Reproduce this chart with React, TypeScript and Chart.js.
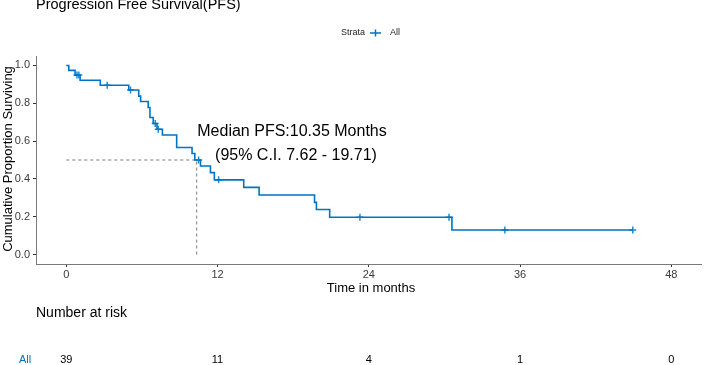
import React, { useEffect, useRef } from "react";
import { Chart, registerables } from "chart.js";

Chart.register(...registerables);

// Kaplan-Meier step points (time in months, survival proportion)
const eventTimes = [0, 0.2, 0.7, 1.1, 2.7, 4.96, 5.75, 5.9, 6.5, 6.64, 6.9, 7.2, 7.63, 8.76, 9.98, 10.2, 10.65, 11.44, 11.75, 14.08, 15.3, 19.7, 19.85, 20.9, 30.6, 44.95];
const survival = [1.0, 0.974, 0.949, 0.922, 0.895, 0.87, 0.838, 0.809, 0.778, 0.725, 0.693, 0.663, 0.632, 0.566, 0.534, 0.5, 0.468, 0.433, 0.395, 0.355, 0.315, 0.276, 0.238, 0.197, 0.13, 0.13];

// censored observations
const censorTimes = [0.85, 1.0, 3.25, 5.1, 7.06, 7.3, 10.5, 12.09, 23.3, 30.37, 34.8, 44.95];
const censorSurv = [0.949, 0.949, 0.895, 0.87, 0.693, 0.663, 0.5, 0.395, 0.197, 0.197, 0.13, 0.13];

const medianTime = 10.35;
const medianSurv = 0.5;

const xTicks = [0, 12, 24, 36, 48];
const yTicks = [0, 0.2, 0.4, 0.6, 0.8, 1.0];
const riskTimes = [0, 12, 24, 36, 48];
const riskCounts = [39, 11, 4, 1, 0];

const titleText = "Progression Free Survival(PFS)";
const annotLine1 = "Median PFS:10.35 Months";
const annotLine2 = "(95% C.I. 7.62 - 19.71)";

const BLUE = "#0073C2";
const FONT = '"Liberation Sans", Arial, sans-serif';

export default function App() {
  const ref = useRef<HTMLCanvasElement>(null);

  useEffect(() => {
    const canvas = ref.current!;
    const overlay = {
      id: "overlay",
      afterDraw(chart: any) {
        const ctx = chart.ctx as CanvasRenderingContext2D;
        const xs = chart.scales.x;
        ctx.save();
        // title
        ctx.fillStyle = "#000";
        ctx.textAlign = "left";
        ctx.textBaseline = "alphabetic";
        ctx.font = `14.5px ${FONT}`;
        ctx.fillText(titleText, 36, 9);
        // legend
        ctx.font = `9px ${FONT}`;
        ctx.fillStyle = "#222";
        ctx.textBaseline = "middle";
        ctx.fillText("Strata", 341, 33);
        ctx.fillText("All", 390, 33);
        ctx.strokeStyle = BLUE;
        ctx.lineWidth = 1.5;
        ctx.beginPath();
        ctx.moveTo(370, 33);
        ctx.lineTo(381, 33);
        ctx.moveTo(375.5, 29.5);
        ctx.lineTo(375.5, 36.5);
        ctx.stroke();
        // annotation
        ctx.fillStyle = "#000";
        ctx.font = `16px ${FONT}`;
        ctx.textAlign = "center";
        ctx.textBaseline = "alphabetic";
        ctx.fillText(annotLine1, 292, 136);
        ctx.fillText(annotLine2, 296, 160);
        // x title
        ctx.font = `13px ${FONT}`;
        ctx.textBaseline = "middle";
        ctx.fillText("Time in months", 371, 288);
        // y title
        ctx.save();
        ctx.translate(8, 159);
        ctx.rotate(-Math.PI / 2);
        ctx.fillText("Cumulative Proportion Surviving", 0, 0);
        ctx.restore();
        // risk table
        ctx.textAlign = "left";
        ctx.font = `14px ${FONT}`;
        ctx.fillText("Number at risk", 36, 313);
        ctx.font = `11px ${FONT}`;
        ctx.fillStyle = BLUE;
        ctx.fillText("All", 19, 360);
        ctx.fillStyle = "#000";
        ctx.textAlign = "center";
        riskTimes.forEach((t, i) => {
          ctx.fillText(String(riskCounts[i]), xs.getPixelForValue(t), 360);
        });
        ctx.restore();
      },
    };

    const chart = new Chart(canvas, {
      type: "line",
      data: {
        datasets: [
          {
            label: "median",
            data: [
              { x: 0, y: medianSurv },
              { x: medianTime, y: medianSurv },
              { x: medianTime, y: 0 },
            ],
            borderColor: "#555",
            borderWidth: 0.8,
            borderDash: [3, 3],
            pointRadius: 0,
            fill: false,
          },
          {
            label: "All",
            data: eventTimes.map((t, i) => ({ x: t, y: survival[i] })),
            borderColor: BLUE,
            borderWidth: 1.6,
            stepped: "before",
            pointRadius: 0,
            fill: false,
          },
          {
            label: "censor",
            data: censorTimes.map((t, i) => ({ x: t, y: censorSurv[i] })),
            showLine: false,
            pointStyle: "cross",
            pointRadius: 3.5,
            pointBorderWidth: 1.5,
            pointBorderColor: "#1C8AD0",
            pointBackgroundColor: "#1C8AD0",
          },
        ],
      },
      options: {
        animation: false,
        responsive: false,
        devicePixelRatio: 1,
        layout: { padding: { top: 56, left: 0, right: 0, bottom: 0 } },
        plugins: { legend: { display: false }, title: { display: false }, tooltip: { enabled: false } },
        scales: {
          x: {
            type: "linear",
            min: -2.4,
            max: 50.4,
            afterFit: (s: any) => {
              s.height = 101;
            },
            afterBuildTicks: (s: any) => {
              s.ticks = xTicks.map((v) => ({ value: v }));
            },
            ticks: {
              color: "#3a3a3a",
              font: { family: FONT, size: 11 },
              padding: 1,
              maxRotation: 0,
              autoSkip: false,
            },
            grid: { display: true, drawOnChartArea: false, drawTicks: true, tickLength: 3, color: "#333" },
            border: { display: true, color: "#7a7a7a", width: 1 },
          },
          y: {
            type: "linear",
            min: -0.05,
            max: 1.05,
            afterFit: (s: any) => {
              s.width = 36;
            },
            afterBuildTicks: (s: any) => {
              s.ticks = yTicks.map((v) => ({ value: v }));
            },
            ticks: {
              color: "#3a3a3a",
              font: { family: FONT, size: 11 },
              padding: 3,
              callback: (v: any) => Number(v).toFixed(1),
            },
            grid: { display: true, drawOnChartArea: false, drawTicks: true, tickLength: 3, color: "#333" },
            border: { display: true, color: "#7a7a7a", width: 1 },
          },
        },
      },
      plugins: [overlay],
    } as any);
    return () => chart.destroy();
  }, []);

  return (
    <div style={{ position: "fixed", left: 0, top: 0, width: 707, height: 365, background: "#fff" }}>
      <canvas ref={ref} width={707} height={365} style={{ width: 707, height: 365, display: "block" }} />
    </div>
  );
}
